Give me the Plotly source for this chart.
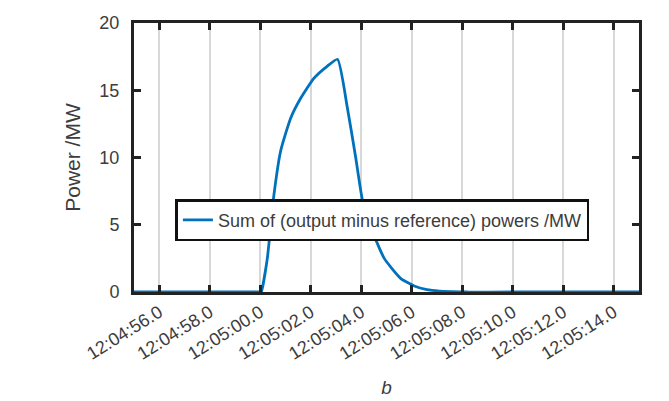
import plotly.graph_objects as go
from datetime import datetime, timedelta

# data: seconds after 12:05:00 and power (MW)
t_offsets = [-5.0, -3.0, -1.0, 0.0, 0.04, 0.28, 0.54, 0.81, 1.2, 1.6, 2.13, 2.66, 3.06,
             3.45, 3.78, 4.05, 4.38, 4.91, 5.57, 6.1, 6.6, 7.1, 7.6, 8.2, 10.0, 12.0, 14.0, 15.0]
power = [0.0, 0.0, 0.0, 0.0, 0.0, 2.5, 7.2, 10.5, 12.9, 14.4, 15.9, 16.8, 17.3,
         13.7, 10.0, 6.8, 4.8, 2.5, 1.0, 0.45, 0.18, 0.07, 0.03, 0.0, 0.0, 0.0, 0.0, 0.0]
series_name = "Sum of (output minus reference) powers /MW"
y_ticks = [0, 5, 10, 15, 20]
FONT = "Liberation Sans, Arial"
TXT = "#3c3c3c"

base = datetime(2020, 1, 1, 12, 5, 0)
times = [base + timedelta(seconds=s) for s in t_offsets]

fig = go.Figure()
fig.add_trace(go.Scatter(x=times, y=power, mode="lines", name=series_name,
                         line=dict(color="#0072BD", width=2.8, shape="spline", smoothing=0.5)))

axis_common = dict(showline=True, linecolor="#222222", linewidth=3, mirror="ticks",
                   ticks="inside", ticklen=7, tickwidth=2.5, tickcolor="#222222",
                   zeroline=False, automargin=False,
                   tickfont=dict(family=FONT, size=18, color=TXT))

fig.update_xaxes(type="date",
                 range=[base - timedelta(seconds=5.0), base + timedelta(seconds=15.0)],
                 tick0=base - timedelta(seconds=4), dtick=2000,
                 tickformat="%H:%M:%S.%1f", tickangle=-32,
                 showgrid=True, gridcolor="#d8d8d8", gridwidth=1.5,
                 title=dict(text="<i>b</i>", font=dict(family=FONT, size=19, color=TXT), standoff=18),
                 **axis_common)
fig.update_yaxes(range=[0, 20], tickvals=y_ticks, showgrid=False, ticklabelstandoff=8,
                 title=dict(text="Power /MW", font=dict(family=FONT, size=21, color=TXT), standoff=14),
                 **axis_common)

fig.update_layout(width=669, height=401, margin=dict(l=126, r=38, t=15, b=117),
                  plot_bgcolor="white", paper_bgcolor="white",
                  showlegend=True,
                  legend=dict(x=0.082, y=0.345, xanchor="left", yanchor="top",
                              bgcolor="white", bordercolor="#111111", borderwidth=2.5,
                              font=dict(family=FONT, size=18, color=TXT)))

fig.write_html("out.html")
